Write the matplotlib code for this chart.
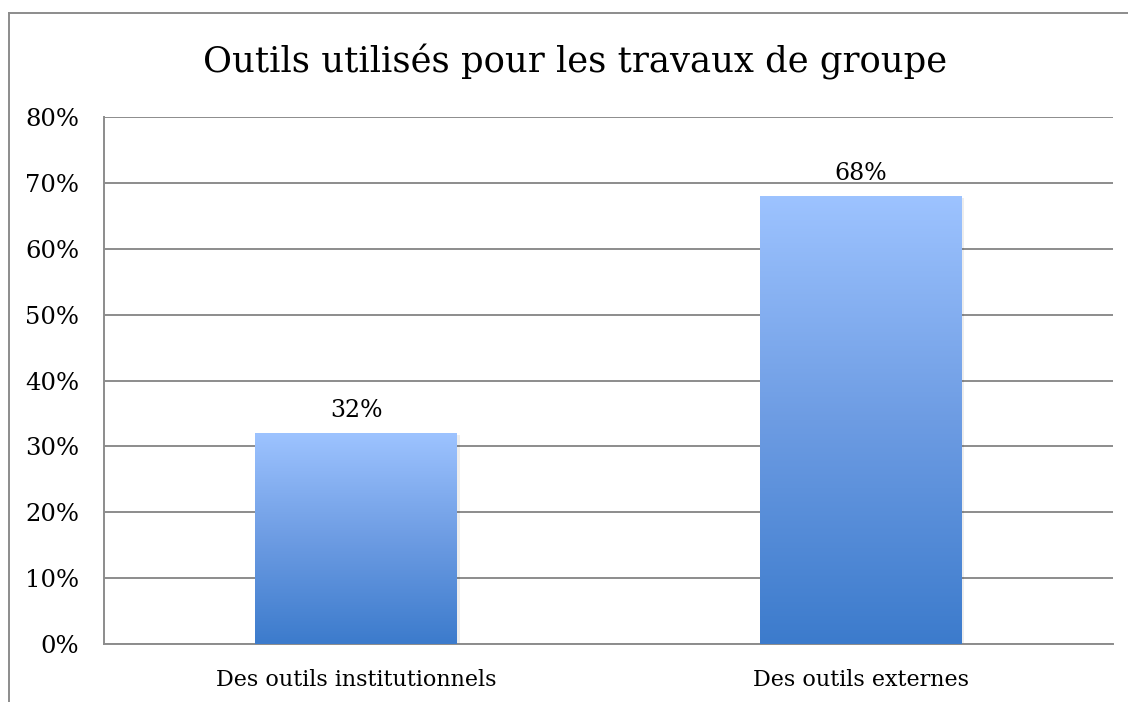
import numpy as np
import matplotlib

matplotlib.use("Agg")
import matplotlib.pyplot as plt  # noqa: E402
from matplotlib.colors import LinearSegmentedColormap  # noqa: E402
from matplotlib.lines import Line2D  # noqa: E402

categories = ["Des outils institutionnels", "Des outils externes"]
values = [32, 68]
labels = ["32%", "68%"]
yticks = [0, 10, 20, 30, 40, 50, 60, 70, 80]
title = "Outils utilisés pour les travaux de groupe"

plt.rcParams["font.family"] = ["DejaVu Serif"]
GRID = "#8c8c8c"
cmap = LinearSegmentedColormap.from_list("bar", ["#3c7bcc", "#6d9ce3", "#9dc3ff"])

fig = plt.figure(figsize=(11.28, 7.02), dpi=100)
ax = fig.add_axes([0.0922, 0.0826, 0.8945, 0.7507])

x = np.arange(len(categories))
w = 0.40

for xi, v in zip(x, values):
    # soft shadow on the right / bottom
    ax.bar(xi + 0.005, v, w, bottom=-0.3, color="#000000", alpha=0.07, zorder=2)
    bar = ax.bar(xi, v, w, color="none", zorder=3)[0]
    grad = np.linspace(0, 1, 256).reshape(-1, 1)
    im = ax.imshow(grad, cmap=cmap, aspect="auto", origin="lower",
                   extent=(xi - w / 2, xi + w / 2, 0, v), zorder=3)
    im.set_clip_path(bar)
for xi, v, lab in zip(x, values, labels):
    ax.text(xi, v + 3.5, lab, ha="center", va="center", fontsize=17)

ax.set_xlim(-0.5, 1.5)
ax.set_ylim(0, 80)
ax.set_yticks(yticks)
ax.set_yticklabels([f"{t}%" for t in yticks], fontsize=17.5)
ax.set_xticks(x)
ax.set_xticklabels(categories, fontsize=16)
ax.tick_params(length=0)
ax.tick_params(axis="y", pad=18)
ax.tick_params(axis="x", pad=18)
ax.yaxis.grid(True, color=GRID, lw=1.4)
ax.set_axisbelow(True)
for s in ["top", "right"]:
    ax.spines[s].set_visible(False)
for s in ["left", "bottom"]:
    ax.spines[s].set_color(GRID)
    ax.spines[s].set_linewidth(1.4)

fig.text(0.51, 0.912, title, ha="center", va="center", fontsize=25.5)

# outer chart border (top and left edges)
fig.add_artist(Line2D([0.008, 1.0], [0.981, 0.981], color=GRID, lw=1.4))
fig.add_artist(Line2D([0.008, 0.008], [0.0, 0.981], color=GRID, lw=1.4))

fig.savefig("out.png", dpi=100)
